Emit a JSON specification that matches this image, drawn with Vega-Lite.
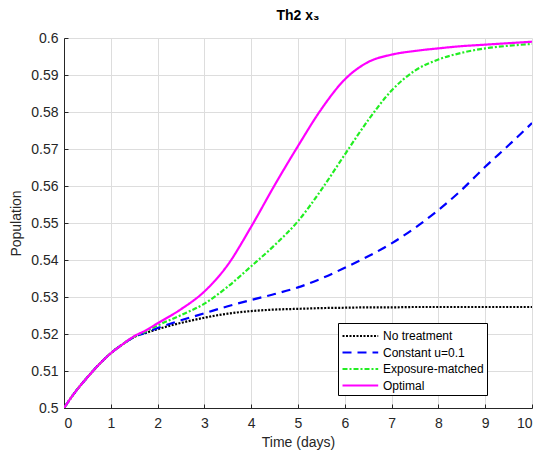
{
  "$schema": "https://vega.github.io/schema/vega-lite/v6.json",
  "autosize": {"type": "none"},
  "width": 468,
  "height": 370,
  "padding": {"left": 64, "top": 38, "right": 18, "bottom": 53},
  "background": "white",
  "title": {
    "text": "Th2 x₃",
    "font": "Liberation Sans",
    "fontSize": 14,
    "fontWeight": "bold",
    "color": "#000000",
    "anchor": "middle",
    "offset": 8
  },
  "data": {
    "values": [
      {"series": "No treatment", "t": 0, "value": 0.5},
      {"series": "No treatment", "t": 0.25, "value": 0.5045},
      {"series": "No treatment", "t": 0.5, "value": 0.5083},
      {"series": "No treatment", "t": 0.75, "value": 0.5118},
      {"series": "No treatment", "t": 1, "value": 0.5148},
      {"series": "No treatment", "t": 1.25, "value": 0.5172},
      {"series": "No treatment", "t": 1.5, "value": 0.5192},
      {"series": "No treatment", "t": 1.75, "value": 0.5203},
      {"series": "No treatment", "t": 2, "value": 0.5213},
      {"series": "No treatment", "t": 2.5, "value": 0.523},
      {"series": "No treatment", "t": 3, "value": 0.5244},
      {"series": "No treatment", "t": 3.5, "value": 0.5255},
      {"series": "No treatment", "t": 4, "value": 0.5262},
      {"series": "No treatment", "t": 4.5, "value": 0.5266},
      {"series": "No treatment", "t": 5, "value": 0.5268},
      {"series": "No treatment", "t": 5.5, "value": 0.527},
      {"series": "No treatment", "t": 6, "value": 0.5271},
      {"series": "No treatment", "t": 6.5, "value": 0.5272},
      {"series": "No treatment", "t": 7, "value": 0.5272},
      {"series": "No treatment", "t": 7.5, "value": 0.5273},
      {"series": "No treatment", "t": 8, "value": 0.5273},
      {"series": "No treatment", "t": 8.5, "value": 0.5273},
      {"series": "No treatment", "t": 9, "value": 0.5273},
      {"series": "No treatment", "t": 9.5, "value": 0.5273},
      {"series": "No treatment", "t": 10, "value": 0.5273},
      {"series": "Constant u=0.1", "t": 0, "value": 0.5},
      {"series": "Constant u=0.1", "t": 0.25, "value": 0.5045},
      {"series": "Constant u=0.1", "t": 0.5, "value": 0.5083},
      {"series": "Constant u=0.1", "t": 0.75, "value": 0.5118},
      {"series": "Constant u=0.1", "t": 1, "value": 0.5148},
      {"series": "Constant u=0.1", "t": 1.25, "value": 0.5172},
      {"series": "Constant u=0.1", "t": 1.5, "value": 0.5192},
      {"series": "Constant u=0.1", "t": 1.75, "value": 0.5204},
      {"series": "Constant u=0.1", "t": 2, "value": 0.5216},
      {"series": "Constant u=0.1", "t": 2.5, "value": 0.5237},
      {"series": "Constant u=0.1", "t": 3, "value": 0.5256},
      {"series": "Constant u=0.1", "t": 3.5, "value": 0.5275},
      {"series": "Constant u=0.1", "t": 4, "value": 0.5292},
      {"series": "Constant u=0.1", "t": 4.5, "value": 0.5308},
      {"series": "Constant u=0.1", "t": 5, "value": 0.5326},
      {"series": "Constant u=0.1", "t": 5.5, "value": 0.535},
      {"series": "Constant u=0.1", "t": 6, "value": 0.5379},
      {"series": "Constant u=0.1", "t": 6.5, "value": 0.541},
      {"series": "Constant u=0.1", "t": 7, "value": 0.5445},
      {"series": "Constant u=0.1", "t": 7.5, "value": 0.5487},
      {"series": "Constant u=0.1", "t": 8, "value": 0.5535},
      {"series": "Constant u=0.1", "t": 8.5, "value": 0.559},
      {"series": "Constant u=0.1", "t": 9, "value": 0.5652},
      {"series": "Constant u=0.1", "t": 9.5, "value": 0.571},
      {"series": "Constant u=0.1", "t": 10, "value": 0.577},
      {"series": "Exposure-matched", "t": 0, "value": 0.5},
      {"series": "Exposure-matched", "t": 0.25, "value": 0.5045},
      {"series": "Exposure-matched", "t": 0.5, "value": 0.5083},
      {"series": "Exposure-matched", "t": 0.75, "value": 0.5118},
      {"series": "Exposure-matched", "t": 1, "value": 0.5148},
      {"series": "Exposure-matched", "t": 1.25, "value": 0.5172},
      {"series": "Exposure-matched", "t": 1.5, "value": 0.5193},
      {"series": "Exposure-matched", "t": 1.75, "value": 0.5207},
      {"series": "Exposure-matched", "t": 2, "value": 0.5223},
      {"series": "Exposure-matched", "t": 2.5, "value": 0.5251},
      {"series": "Exposure-matched", "t": 3, "value": 0.5282},
      {"series": "Exposure-matched", "t": 3.5, "value": 0.5328},
      {"series": "Exposure-matched", "t": 4, "value": 0.5383},
      {"series": "Exposure-matched", "t": 4.5, "value": 0.544},
      {"series": "Exposure-matched", "t": 5, "value": 0.5505},
      {"series": "Exposure-matched", "t": 5.5, "value": 0.559},
      {"series": "Exposure-matched", "t": 6, "value": 0.5685},
      {"series": "Exposure-matched", "t": 6.5, "value": 0.5778},
      {"series": "Exposure-matched", "t": 7, "value": 0.5858},
      {"series": "Exposure-matched", "t": 7.5, "value": 0.5912},
      {"series": "Exposure-matched", "t": 8, "value": 0.5942},
      {"series": "Exposure-matched", "t": 8.5, "value": 0.596},
      {"series": "Exposure-matched", "t": 9, "value": 0.5972},
      {"series": "Exposure-matched", "t": 9.5, "value": 0.5979},
      {"series": "Exposure-matched", "t": 10, "value": 0.5984},
      {"series": "Optimal", "t": 0, "value": 0.5},
      {"series": "Optimal", "t": 0.25, "value": 0.5045},
      {"series": "Optimal", "t": 0.5, "value": 0.5083},
      {"series": "Optimal", "t": 0.75, "value": 0.5118},
      {"series": "Optimal", "t": 1, "value": 0.5148},
      {"series": "Optimal", "t": 1.25, "value": 0.5172},
      {"series": "Optimal", "t": 1.5, "value": 0.5194},
      {"series": "Optimal", "t": 1.75, "value": 0.521},
      {"series": "Optimal", "t": 2, "value": 0.5229},
      {"series": "Optimal", "t": 2.5, "value": 0.5267},
      {"series": "Optimal", "t": 3, "value": 0.5315},
      {"series": "Optimal", "t": 3.5, "value": 0.5387},
      {"series": "Optimal", "t": 4, "value": 0.549},
      {"series": "Optimal", "t": 4.5, "value": 0.5602},
      {"series": "Optimal", "t": 5, "value": 0.5708},
      {"series": "Optimal", "t": 5.5, "value": 0.5808},
      {"series": "Optimal", "t": 6, "value": 0.5888},
      {"series": "Optimal", "t": 6.5, "value": 0.5935},
      {"series": "Optimal", "t": 7, "value": 0.5955},
      {"series": "Optimal", "t": 7.5, "value": 0.5965},
      {"series": "Optimal", "t": 8, "value": 0.5972},
      {"series": "Optimal", "t": 8.5, "value": 0.5978},
      {"series": "Optimal", "t": 9, "value": 0.5982},
      {"series": "Optimal", "t": 9.5, "value": 0.5986},
      {"series": "Optimal", "t": 10, "value": 0.599}
    ]
  },
  "mark": {"type": "line", "interpolate": "monotone", "strokeWidth": 2.2, "clip": true},
  "encoding": {
    "x": {
      "field": "t",
      "type": "quantitative",
      "title": "Time (days)",
      "scale": {"domain": [0, 10], "nice": false, "zero": false},
      "axis": {"values": [0, 1, 2, 3, 4, 5, 6, 7, 8, 9, 10], "labelPadding": 12, "titlePadding": 5}
    },
    "y": {
      "field": "value",
      "type": "quantitative",
      "title": "Population",
      "scale": {"domain": [0.5, 0.6], "nice": false, "zero": false},
      "axis": {
        "values": [0.5, 0.51, 0.52, 0.53, 0.54, 0.55, 0.56, 0.57, 0.58, 0.59, 0.6],
        "format": "~g",
        "labelPadding": 10,
        "titlePadding": 7
      }
    },
    "color": {
      "field": "series",
      "type": "nominal",
      "title": null,
      "scale": {
        "domain": ["No treatment", "Constant u=0.1", "Exposure-matched", "Optimal"],
        "range": ["#000000", "#0000ff", "#22ee22", "#ff00ff"]
      },
      "legend": {
        "orient": "none",
        "legendX": 274,
        "legendY": 285,
        "symbolType": "M-1,0H3.2",
        "symbolSize": 289,
        "symbolStrokeWidth": 2.2,
        "labelFont": "Liberation Sans",
        "labelFontSize": 12,
        "labelColor": "#000000",
        "labelOffset": 22,
        "rowPadding": 0.5,
        "padding": 3,
        "strokeColor": "#000000",
        "fillColor": "#ffffff"
      }
    },
    "strokeDash": {
      "field": "series",
      "type": "nominal",
      "title": null,
      "scale": {
        "domain": ["No treatment", "Constant u=0.1", "Exposure-matched", "Optimal"],
        "range": [[2, 1.5], [9, 6], [5, 2, 2, 2], [1, 0]]
      }
    }
  },
  "config": {
    "view": {"stroke": null},
    "axis": {
      "labelFont": "Liberation Sans",
      "labelFontSize": 14,
      "labelColor": "#262626",
      "titleFont": "Liberation Sans",
      "titleFontSize": 14,
      "titleFontWeight": "normal",
      "titleColor": "#262626",
      "domainColor": "#262626",
      "domainWidth": 1,
      "tickColor": "#262626",
      "tickSize": -4,
      "gridColor": "#dddddd",
      "gridWidth": 1,
      "grid": true
    }
  }
}
